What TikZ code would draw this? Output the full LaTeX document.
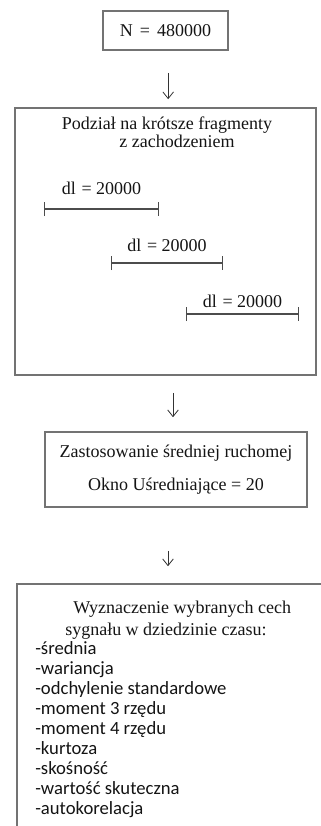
\documentclass[tikz,border=0pt]{standalone}
\usepackage{fontspec}
\setmainfont{Liberation Serif}
\newfontfamily\listfont{Carlito}
\usetikzlibrary{arrows.meta}

\tikzset{
  boxline/.style={draw=black!55, line width=1.2pt, inner sep=0pt},
  flow/.style={-{Straight Barb[length=5pt,width=8pt]}, line width=0.6pt, draw=black!80},
  segline/.style={{Bar[width=10.5pt]}-{Bar[width=10.5pt]}, line width=0.8pt, draw=black!70},
  txt/.style={inner sep=0pt, font=\fontsize{13.5}{16}\selectfont, text=black!92},
  listtxt/.style={inner sep=0pt, align=left, font=\listfont\fontsize{14}{15}\selectfont, text=black!92},
}

\begin{document}
\begin{tikzpicture}[x=0.75pt,y=0.75pt,yscale=-1,xscale=1]
\useasboundingbox (0,0) rectangle (321,826);

% Boxes
\node[boxline, txt, minimum width=93.75pt, minimum height=29.25pt] (box1) at (165.5,30.5) {N\hspace{2pt} = \hspace{2pt}480000};
\node[boxline, minimum width=225.75pt, minimum height=200.25pt] (box2) at (165.5,241.5) {};
\node[boxline, txt, align=center, minimum width=196.5pt, minimum height=56.25pt] (box3) at (176,469.5)
  {Zastosowanie średniej ruchomej\\[8.75pt]Okno Uśredniające = 20};
\node[boxline, minimum width=238.5pt, minimum height=207pt] (box4) at (176,722) {};

% Text Node
\node[txt, align=center, anchor=north, font=\fontsize{13.5}{13.5}\selectfont] (title2) at (167,117)
  {Podział na krótsze fragmenty\\\hspace*{15pt}z zachodzeniem};

% Fragments
\node[txt, anchor=base] (dl1) at (101.5,194) {dl\hspace{1pt} = 20000};
\node[txt, anchor=base] (dl2) at (167,251) {dl\hspace{1pt} = 20000};
\node[txt, anchor=base] (dl3) at (242.5,307) {dl\hspace{1pt} = 20000};
\draw[segline] (44,209) -- (159,209);
\draw[segline] (111,263) -- (223,263);
\draw[segline] (186,314) -- (299,314);

% Text Node
\node[txt, align=left, anchor=north west] (title4) at (65,601)
  {\hspace*{6pt}Wyznaczenie wybranych cech\\sygnału w dziedzinie czasu:};
\node[listtxt, anchor=north west] (features) at (35,641)
  {-średnia\\-wariancja\\-odchylenie standardowe\\-moment 3 rzędu\\-moment 4 rzędu\\-kurtoza\\-skośność\\-wartość skuteczna\\-autokorelacja};

% Arrows
\draw[flow, shorten <=16.5pt, shorten >=6pt] ([xshift=2pt]box1.south) -- ([xshift=2pt]box1.south |- box2.north);
\draw[flow, shorten <=12.75pt, shorten >=10.5pt] ([xshift=-2.25pt]box3.north |- box2.south) -- ([xshift=-2.25pt]box3.north);
\draw[flow, shorten <=32.25pt, shorten >=12.75pt] ([xshift=-6pt]box3.south) -- ([xshift=-6pt]box3.south |- box4.north);

\end{tikzpicture}
\end{document}
